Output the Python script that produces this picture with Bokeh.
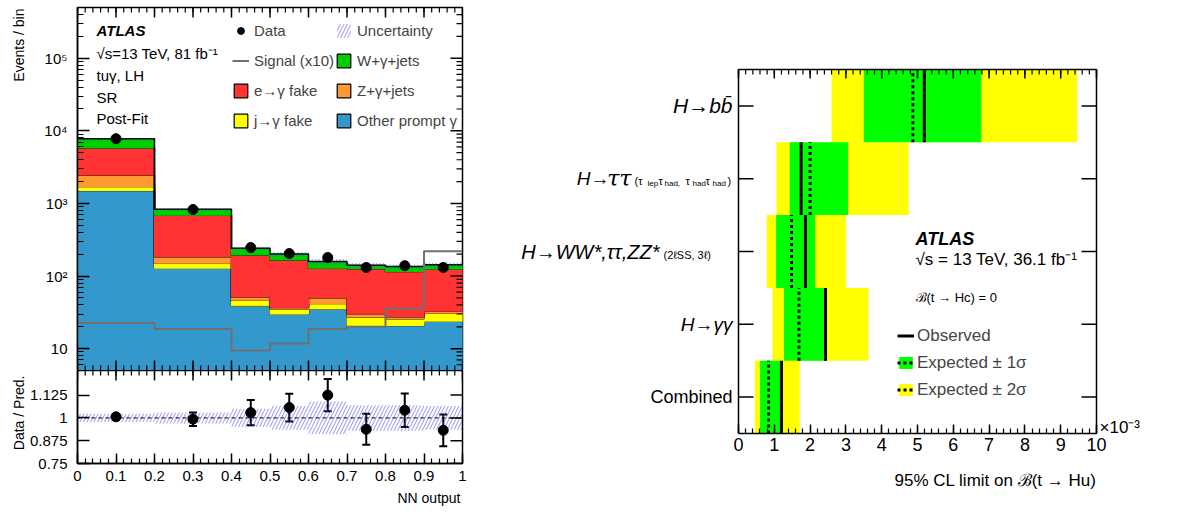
import math
from bokeh.plotting import figure
from bokeh.layouts import row, column
from bokeh.models import (Range1d, FixedTicker, Label, Legend,
                          LegendItem, Span, Whisker, ColumnDataSource, TeeHead)
from bokeh.embed import file_html
from bokeh.resources import INLINE

FONT = "Liberation Sans"
SERIF = "DejaVu Serif"

# ---------------- left panel data (NN output, SR, post-fit) ----------------
bin_edges = [0.0, 0.2, 0.4, 0.5, 0.6, 0.7, 0.8, 0.9, 1.0]
other_prompt = [1507, 127, 37.9, 28.9, 34.2, 19.8, 19.8, 22.9]
j_fake = [203, 22, 7.6, 5.3, 6.7, 6.5, 5.1, 7.0]
z_jets = [760, 35, 4.9, 1.8, 8.5, 2.9, 1.7, 1.9]
e_fake = [3330, 501, 143.6, 129.6, 77.6, 95.8, 88.0, 91.8]
w_jets = [1960, 143, 46, 34.4, 30, 15, 19.4, 18]
signal_x10 = [22.5, 18.6, 9.4, 11.8, 18.6, 20.0, 35.7, 220]
data_counts = [7800, 825, 247, 204, 180, 131, 139, 131]
rel_unc = [0.023, 0.03, 0.05, 0.065, 0.09, 0.07, 0.07, 0.065]
ratio_vals = [1.006, 0.993, 1.029, 1.057, 1.125, 0.9375, 1.042, 0.932]
ratio_errs = [0.005, 0.037, 0.069, 0.076, 0.089, 0.085, 0.092, 0.087]

log_major = [10, 100, 1000, 10000, 100000]
log_labels = ["10", "10²", "10³", "10⁴", "10⁵"]
ratio_ticks = [0.75, 0.875, 1.0, 1.125]
ratio_labels = ["0.75", "0.875", "1", "1.125"]
nn_ticks = [round(i * 0.1, 1) for i in range(11)]
nn_labels = ["0", "0.1", "0.2", "0.3", "0.4", "0.5", "0.6", "0.7", "0.8", "0.9", "1"]

# ---------------- right panel data (limits, x10^-3) ----------------
channels = ["Combined", "H→γγ", "H→WW*,ττ,ZZ*", "H→ττ", "H→bb̄"]
observed = [1.20, 2.43, 1.87, 1.75, 5.19]
expected = [0.84, 1.69, 1.48, 2.00, 4.87]
exp_m1 = [0.60, 1.27, 1.05, 1.43, 3.50]
exp_p1 = [1.18, 2.47, 2.14, 3.06, 6.78]
exp_m2 = [0.46, 0.95, 0.79, 1.06, 2.60]
exp_p2 = [1.71, 3.63, 3.00, 4.75, 9.46]
limit_ticks = list(range(11))
LIMIT_MAX = 10

# ---------------- geometry (pixel -> data, for annotation placement) ----------------
STRIP_L = 26
MAIN_BL = 49
MAIN_W, MAIN_H = 385, 363
RAT_H = 93
Y_LO, Y_HI = 5.0, 5e5
R_LO, R_HI = 0.75, 1.26
PX_PER_UNIT = 35.8          # right panel: pixels per 1e-3
LIM_X0, LIM_Y0 = 736, 433   # right panel: pixel of (0, 0)
ROW_PX = 72.8


def mx(px):
    return (px - 75) / float(MAIN_W)


def my(py):
    return 10 ** (math.log10(Y_LO) + (370 - py) / float(MAIN_H) * math.log10(Y_HI / Y_LO))


def qx(px):
    return (px - LIM_X0) / PX_PER_UNIT


def qy(py):
    return (LIM_Y0 - py) / ROW_PX


def style_axis(ax, tick_in, minor_in, fs="15px", standoff=6):
    ax.major_tick_in = tick_in
    ax.major_tick_out = 0
    ax.minor_tick_in = minor_in
    ax.minor_tick_out = 0
    ax.axis_line_width = 1.5
    ax.major_tick_line_width = 1.5
    ax.minor_tick_line_width = 1.2
    ax.axis_line_color = "black"
    ax.major_tick_line_color = "black"
    ax.minor_tick_line_color = "black"
    ax.major_label_text_font = FONT
    ax.major_label_text_font_size = fs
    ax.major_label_text_color = "black"
    ax.major_label_standoff = standoff


def base_fig(**kw):
    p = figure(output_backend="svg", toolbar_location=None, **kw)
    p.grid.visible = False
    p.outline_line_color = "black"
    p.outline_line_width = 1.5
    p.background_fill_color = "white"
    p.border_fill_color = "white"
    return p


def strip(w, h):
    """Text-only strip whose data coordinates are pixels from its top-left corner."""
    p = figure(output_backend="svg", toolbar_location=None, frame_width=w, frame_height=h,
               min_border=0, x_range=Range1d(0, w), y_range=Range1d(h, 0),
               x_axis_location=None, y_axis_location=None)
    p.grid.visible = False
    p.outline_line_alpha = 0
    p.background_fill_color = "white"
    p.border_fill_color = "white"
    return p


def lab(p, x, y, text, size, style="normal", align="left", baseline="middle", angle=0, font=FONT):
    p.add_layout(Label(x=x, y=y, text=text, text_font=font, text_font_size=size,
                       text_font_style=style, text_align=align, text_baseline=baseline,
                       angle=angle, text_color="black"))


def hticks(p, side, vals, x_lo, x_hi, length, width):
    if side == "left":
        x0, x1 = x_lo, x_lo + length
    else:
        x0, x1 = x_hi, x_hi - length
    p.segment(x0=[x0] * len(vals), x1=[x1] * len(vals), y0=vals, y1=vals,
              line_color="black", line_width=width)


def vticks(p, vals, y0v, y1v, width):
    p.segment(x0=vals, x1=vals, y0=[y0v] * len(vals), y1=[y1v] * len(vals),
              line_color="black", line_width=width)


# ================= main (stack) =================
lefts = bin_edges[:-1]
rights = bin_edges[1:]
centers = [(a + b) / 2 for a, b in zip(lefts, rights)]

main = base_fig(frame_width=MAIN_W, frame_height=MAIN_H, min_border_left=MAIN_BL, min_border_right=10,
                min_border_top=7, min_border_bottom=0, x_range=Range1d(0, 1),
                y_range=Range1d(Y_LO, Y_HI), y_axis_type="log", x_axis_location=None)

log_minor = [k * 10 ** n for n in range(0, 6) for k in range(2, 10)]
log_minor_vis = [v for v in log_minor if Y_LO <= v <= Y_HI]
nn_minor = [round(i * 0.02, 2) for i in range(51)]

main.yaxis.ticker = FixedTicker(ticks=log_major, minor_ticks=log_minor)
main.yaxis.major_label_overrides = dict(zip(log_major, log_labels))
style_axis(main.yaxis[0], 12, 6, standoff=10)

components = [
    ("Other prompt γ", other_prompt, "#3399cc"),
    ("j→γ fake", j_fake, "#ffff00"),
    ("Z+γ+jets", z_jets, "#ff9933"),
    ("e→γ fake", e_fake, "#ff3333"),
    ("W+γ+jets", w_jets, "#00cc00"),
]
bottom = [1.0] * len(lefts)
swatches = {}
for name, vals, col in components:
    top = [b + v for b, v in zip(bottom, vals)]
    main.quad(left=lefts, right=rights, bottom=bottom, top=top, fill_color=col,
              line_color=col, line_width=1)
    main.step(x=bin_edges, y=top + [top[-1]], mode="after", line_color="black", line_width=1.5)
    swatches[name] = main.quad(left=[0], right=[0], bottom=[1], top=[1], fill_color=col,
                               line_color="black", line_width=1.2)
    bottom = top
total = bottom

HATCH = dict(fill_alpha=0, line_alpha=0, hatch_pattern="/", hatch_color="#4a4ae8",
             hatch_alpha=0.6, hatch_scale=7, hatch_weight=1)
unc_main = main.quad(left=lefts, right=rights,
                     bottom=[t * (1 - u) for t, u in zip(total, rel_unc)],
                     top=[t * (1 + u) for t, u in zip(total, rel_unc)], **HATCH)

sig = main.step(x=bin_edges, y=signal_x10 + [signal_x10[-1]], mode="after",
                line_color="#707070", line_width=2)

main.segment(x0=centers, x1=centers, y0=[d - math.sqrt(d) for d in data_counts],
             y1=[d + math.sqrt(d) for d in data_counts], line_color="black", line_width=2)
dat = main.scatter(x=centers, y=data_counts, size=10, color="black")

# mirror ticks (right, top, bottom)
dec = math.log10(Y_HI / Y_LO) / MAIN_H
hticks(main, "right", log_major, 0, 1, 12.0 / MAIN_W, 1.5)
hticks(main, "right", log_minor_vis, 0, 1, 6.0 / MAIN_W, 1.2)
vticks(main, nn_ticks, Y_HI, Y_HI / 10 ** (10 * dec), 1.5)
vticks(main, nn_minor, Y_HI, Y_HI / 10 ** (5 * dec), 1.2)
vticks(main, nn_ticks, Y_LO, Y_LO * 10 ** (10 * dec), 1.5)
vticks(main, nn_minor, Y_LO, Y_LO * 10 ** (5 * dec), 1.2)


def make_legend(items, loc, spacing, gw, gh, fs, standoff):
    lg = Legend(items=items, location=loc, orientation="vertical")
    lg.border_line_alpha = 0
    lg.background_fill_alpha = 0
    lg.padding = 0
    lg.margin = 0
    lg.spacing = spacing
    lg.glyph_width = gw
    lg.glyph_height = gh
    lg.label_height = gh
    lg.label_standoff = standoff
    lg.label_text_font = FONT
    lg.label_text_font_size = fs
    return lg


main.add_layout(make_legend([
    LegendItem(label="Data", renderers=[dat]),
    LegendItem(label="Signal (x10)", renderers=[sig]),
    LegendItem(label="e→γ fake", renderers=[swatches["e→γ fake"]]),
    LegendItem(label="j→γ fake", renderers=[swatches["j→γ fake"]]),
], (155, 241.5), 13, 17, 17, "15px", 5), "center")
main.add_layout(make_legend([
    LegendItem(label="Uncertainty", renderers=[unc_main]),
    LegendItem(label="W+γ+jets", renderers=[swatches["W+γ+jets"]]),
    LegendItem(label="Z+γ+jets", renderers=[swatches["Z+γ+jets"]]),
    LegendItem(label="Other prompt γ", renderers=[swatches["Other prompt γ"]]),
], (258, 241.5), 13, 17, 17, "15px", 5), "center")

lab(main, mx(94), my(30), "ATLAS", "15px", style="bold italic")
lab(main, mx(94), my(53), "√s=13 TeV, 81 fb⁻¹", "15px")
lab(main, mx(94), my(75), "tuγ, LH", "15px")
lab(main, mx(94), my(97), "SR", "15px")
lab(main, mx(94), my(118), "Post-Fit", "15px")

# ================= ratio =================
ratio = base_fig(frame_width=MAIN_W, frame_height=RAT_H, min_border_left=MAIN_BL, min_border_right=10,
                 min_border_top=0, min_border_bottom=25, x_range=Range1d(0, 1),
                 y_range=Range1d(R_LO, R_HI))
ratio.xaxis.ticker = FixedTicker(ticks=nn_ticks, minor_ticks=nn_minor)
ratio.xaxis.major_label_overrides = dict(zip(nn_ticks, nn_labels))
style_axis(ratio.xaxis[0], 10, 5, standoff=7)
ratio.yaxis.ticker = FixedTicker(ticks=ratio_ticks)
ratio.yaxis.major_label_overrides = dict(zip(ratio_ticks, ratio_labels))
style_axis(ratio.yaxis[0], 12, 6, standoff=10)

ratio.quad(left=lefts, right=rights, bottom=[1 - u for u in rel_unc], top=[1 + u for u in rel_unc],
           **HATCH)
ratio.add_layout(Span(location=1.0, dimension="width", line_color="black",
                      line_dash="4 3", line_width=1))
rsrc = ColumnDataSource(dict(x=centers, y=ratio_vals,
                             lo=[v - e for v, e in zip(ratio_vals, ratio_errs)],
                             hi=[v + e for v, e in zip(ratio_vals, ratio_errs)]))
ratio.add_layout(Whisker(source=rsrc, base="x", lower="lo", upper="hi", dimension="height",
                         line_width=2, line_color="black",
                         lower_head=TeeHead(size=8, line_width=2),
                         upper_head=TeeHead(size=8, line_width=2)))
ratio.scatter(x="x", y="y", source=rsrc, size=10, color="black")

rspan = R_HI - R_LO
hticks(ratio, "right", ratio_ticks, 0, 1, 12.0 / MAIN_W, 1.5)
vticks(ratio, nn_ticks, R_HI, R_HI - 10.0 / RAT_H * rspan, 1.5)
vticks(ratio, nn_minor, R_HI, R_HI - 5.0 / RAT_H * rspan, 1.2)

# text strips around the left panel
stripL = strip(STRIP_L, 370 + RAT_H + 25)
lab(stripL, 18, 8, "Events / bin", "14px", align="right", angle=math.pi / 2)
lab(stripL, 18, 375, "Data / Pred.", "14px", align="right", angle=math.pi / 2)
LEFT_W = STRIP_L + MAIN_BL + MAIN_W + 10
stripB = strip(LEFT_W, 512 - (370 + RAT_H + 25))
lab(stripB, 460, 9, "NN output", "14px", align="right")

# ================= right: limits =================
ny = len(channels)
ypos = [i + 0.5 for i in range(ny)]
lim = base_fig(frame_width=1197 - LEFT_W, frame_height=LIM_Y0, min_border_left=0, min_border_right=0,
               min_border_top=0, min_border_bottom=30, x_range=Range1d(qx(LEFT_W), qx(1197)),
               y_range=Range1d(0, qy(0)), y_axis_location=None)
lim.outline_line_alpha = 0
lim_minor = [round(i * 0.2, 1) for i in range(51)]
lim.xaxis.ticker = FixedTicker(ticks=limit_ticks, minor_ticks=lim_minor)
lim.xaxis.bounds = (0, LIMIT_MAX)
style_axis(lim.xaxis[0], 9, 5, fs="18px", standoff=4)

yel = lim.hbar(y=ypos, left=exp_m2, right=exp_p2, height=1.0, fill_color="#ffff00", line_alpha=0)
grn = lim.hbar(y=ypos, left=exp_m1, right=exp_p1, height=1.0, fill_color="#00ff00", line_alpha=0)
exp_r = lim.segment(x0=expected, x1=expected, y0=[y - 0.5 for y in ypos], y1=[y + 0.5 for y in ypos],
                    line_color="black", line_width=3, line_dash="3 3")
obs_r = lim.segment(x0=observed, x1=observed, y0=[y - 0.5 for y in ypos], y1=[y + 0.5 for y in ypos],
                    line_color="black", line_width=3)

# plot box and inward ticks
lim.segment(x0=[0, LIMIT_MAX, 0], x1=[0, LIMIT_MAX, LIMIT_MAX], y0=[0, 0, ny], y1=[ny, ny, ny],
            line_color="black", line_width=1.5)
tl = 15.0 / PX_PER_UNIT
hticks(lim, "left", ypos, 0, LIMIT_MAX, tl, 1.5)
hticks(lim, "right", ypos, 0, LIMIT_MAX, tl, 1.5)
vticks(lim, limit_ticks, ny, ny - 9.0 / ROW_PX, 1.5)
vticks(lim, lim_minor, ny, ny - 5.0 / ROW_PX, 1.2)

lim.add_layout(make_legend([
    LegendItem(label="Observed", renderers=[obs_r]),
    LegendItem(label="Expected ± 1σ", renderers=[grn, exp_r]),
    LegendItem(label="Expected ± 2σ", renderers=[yel, exp_r]),
], (895 - LEFT_W, 33.5), 7, 17, 15, "17px", 3), "center")

lab(lim, qx(913), qy(238), "ATLAS", "18px", style="bold italic")
lab(lim, qx(913), qy(259), "√s = 13 TeV, 36.1 fb⁻¹", "17px")
lab(lim, qx(913), qy(297), "ℬ(t → Hc) = 0", "13px")
lab(lim, qx(1097), qy(427), "×10⁻³", "17px")

# category labels (rich text built from pieces)
lab(lim, qx(730), ypos[4], channels[4], "21px", style="italic", align="right")
lab(lim, qx(607), ypos[3], "H→", "19px", style="italic", align="right")
lab(lim, qx(629), ypos[3], "ττ", "22px", style="italic", align="right", font=SERIF)
tau_pieces = [("(τ", 632, 0, "11px"), ("lep", 645, 3, "8px"), ("τ", 656, 0, "11px"),
              ("had,", 662, 3, "8px"), ("τ", 683, 0, "11px"), ("had", 690, 3, "8px"),
              ("τ", 703, 0, "11px"), ("had", 710, 3, "8px"), (")", 725, 0, "11px")]
for t, px, dy, fs in tau_pieces:
    lab(lim, qx(px), qy(180 + dy), t, fs)
lab(lim, qx(657), ypos[2], channels[2], "20px", style="italic", align="right")
lab(lim, qx(661), qy(254), "(2ℓSS, 3ℓ)", "11px")
lab(lim, qx(730), ypos[1], channels[1], "19px", style="italic", align="right")
lab(lim, qx(730), ypos[0], channels[0], "18px", align="right")

stripB2 = strip(1197 - LEFT_W, 512 - LIM_Y0 - 30)
lab(stripB2, 1094 - LEFT_W, 17, "95% CL limit on ℬ(t → Hu)", "17px", align="right")

left_block = column(row(stripL, column(main, ratio, spacing=0), spacing=0), stripB, spacing=0)
right_block = column(lim, stripB2, spacing=0)
layout = row(left_block, right_block, spacing=0)
open("out.html", "w").write(file_html(layout, INLINE))
